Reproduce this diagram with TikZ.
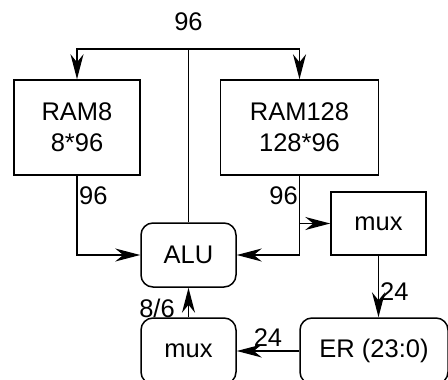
\documentclass[tikz,border=0pt]{standalone}
\usepackage{fontspec}
\setmainfont{Liberation Sans}
\usetikzlibrary{arrows.meta}
\tikzset{
  box/.style={draw, line width=1.5pt, minimum width=95pt, minimum height=63pt, inner sep=0pt, align=center},
  rbox/.style={box, rounded corners=12pt},
  wire/.style={line width=1.5pt},
  arr/.style={wire, -{Stealth[length=25pt, width=13pt, inset=8pt]}},
  lbl/.style={inner sep=0pt}
}
\begin{document}
\begin{tikzpicture}[x=1pt, y=-1pt, font=\fontsize{25.5}{31}\selectfont]
\useasboundingbox (0,0) rectangle (448,380);
\clip (0,0) rectangle (448,380);
\node[box, minimum width=126pt, minimum height=95pt] (ram8) at (77,127.5) {RAM8\\8*96};
\node[box, minimum width=158pt, minimum height=95pt] (ram128) at (299.5,127.5) {RAM128\\128*96};
\node[rbox, minimum height=64pt] (alu) at (188.5,255) {ALU};
\node[box] (mux1) at (378.5,223.5) {mux};
\node[rbox, minimum width=148pt, minimum height=66pt] (er) at (374,351) {ER (23:0)};
\node[rbox, minimum height=66pt] (mux2) at (188.5,351) {mux};
\coordinate (top) at (188.5,49);
\node[lbl] (l96top) at (188.5,22) {96};
\draw[wire] (alu.north) -- (top);
\draw[arr] (top) -| (ram8.north);
\draw[arr] (top) -| (ram128.north);
\draw[arr] (ram8.south) |- (alu.west);
\draw[arr] (ram128.south) |- (alu.east);
\draw[arr] (ram128.south |- mux1.west) -- (mux1.west);
\draw[arr] (mux1.south) -- (mux1.south |- er.north);
\draw[arr] (er.west) -- (mux2.east);
\draw[arr] (mux2.north) -- (alu.south);
\node[lbl, anchor=west] (l96a) at (79,196) {96};
\node[lbl, anchor=east] (l96b) at (298,196) {96};
\node[lbl, anchor=west] (l24a) at (380,292) {24};
\node[lbl] (l24b) at (268,338) {24};
\node[lbl] (l86) at (157,308) {8/6};
\end{tikzpicture}
\end{document}
